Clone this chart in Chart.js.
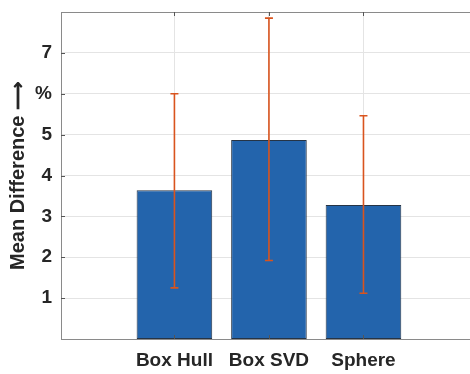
<!DOCTYPE html>
<html>
<head>
<meta charset="utf-8">
<script src="https://cdn.jsdelivr.net/npm/chart.js@4.4.1/dist/chart.umd.min.js"></script>
<style>
  html, body { margin: 0; padding: 0; background: #fff; overflow: hidden; }
  #wrap { width: 470px; height: 374px; }
</style>
</head>
<body>
<div id="wrap"><canvas id="chart" width="470" height="374"></canvas></div>
<script>
// values
const categories = ['Box Hull', 'Box SVD', 'Sphere']
const positions = [1, 2, 3]
const meanDiff = [3.64, 4.87, 3.28]
const errLow = [1.25, 1.92, 1.12]
const errHigh = [6.0, 7.85, 5.46]
const yTicks = [1, 2, 3, 4, 5, 6, 7]

const FONT = "'Liberation Sans', Arial, Helvetica, sans-serif"
const AXIS = '#8a8a8a'
const GRID = '#e4e4e4'

// error bars, top frame line and inward tick marks (matlab style)
const extras = {
  id: 'extras',
  afterDatasetsDraw(chart) {
    const ctx = chart.ctx
    const x = chart.scales.x, y = chart.scales.y
    const area = chart.chartArea
    ctx.save()
    // error bars
    ctx.strokeStyle = '#D9541E'
    ctx.lineWidth = 1.6
    positions.forEach((p, i) => {
      const px = x.getPixelForValue(p)
      const lo = y.getPixelForValue(errLow[i])
      const hi = y.getPixelForValue(errHigh[i])
      ctx.beginPath()
      ctx.moveTo(px, lo); ctx.lineTo(px, hi)
      ctx.moveTo(px - 4, lo); ctx.lineTo(px + 4, lo)
      ctx.moveTo(px - 4, hi); ctx.lineTo(px + 4, hi)
      ctx.stroke()
    })
    // top frame
    ctx.strokeStyle = AXIS
    ctx.lineWidth = 1
    ctx.beginPath()
    ctx.moveTo(area.left, area.top + 0.5)
    ctx.lineTo(area.right, area.top + 0.5)
    ctx.stroke()
    // inward ticks
    ctx.strokeStyle = '#555'
    ctx.beginPath()
    yTicks.forEach(t => {
      const py = Math.round(y.getPixelForValue(t)) + 0.5
      ctx.moveTo(area.left, py); ctx.lineTo(area.left + 4, py)
    })
    positions.forEach(p => {
      const px = Math.round(x.getPixelForValue(p)) + 0.5
      ctx.moveTo(px, area.bottom); ctx.lineTo(px, area.bottom - 4)
      ctx.moveTo(px, area.top); ctx.lineTo(px, area.top + 4)
    })
    ctx.stroke()
    ctx.restore()
  }
}

new Chart('chart', {
  type: 'bar',
  data: {
    datasets: [{
      label: 'Mean Difference',
      data: positions.map((p, i) => ({ x: p, y: meanDiff[i] })),
      backgroundColor: '#2364AC',
      borderColor: '#263445',
      borderWidth: 1,
      borderSkipped: false,
      barPercentage: 0.8,
      categoryPercentage: 1
    }]
  },
  options: {
    responsive: false,
    animation: false,
    layout: { padding: { top: 12, right: 0, left: 0, bottom: 0 } },
    plugins: { legend: { display: false }, tooltip: { enabled: false } },
    scales: {
      x: {
        type: 'linear',
        offset: false,
        min: -0.2,
        max: 4.127,
        afterBuildTicks: s => { s.ticks = positions.map(v => ({ value: v })) },
        afterFit: s => { s.height = 35; s.paddingLeft = 0; s.paddingRight = 0 },
        grid: { color: GRID, drawTicks: false, offset: false },
        border: { color: AXIS, width: 1 },
        ticks: {
          autoSkip: false,
          maxRotation: 0,
          padding: 10,
          color: '#262626',
          font: { family: FONT, size: 19, weight: 'bold' },
          callback: v => categories[positions.indexOf(v)]
        }
      },
      y: {
        min: 0,
        max: 8,
        afterBuildTicks: s => { s.ticks = yTicks.map(v => ({ value: v })) },
        afterFit: s => { s.width = 61; s.paddingTop = 0; s.paddingBottom = 0 },
        grid: { color: GRID, drawTicks: false },
        border: { color: AXIS, width: 1 },
        ticks: {
          padding: 9,
          color: '#262626',
          font: { family: FONT, size: 19, weight: 'bold' },
          callback: v => v === 6 ? '%' : v
        },
        title: {
          display: true,
          text: 'Mean Difference \u27F6',
          color: '#262626',
          font: { family: FONT, size: 20, weight: 'bold' },
          padding: { top: 6, bottom: 0 }
        }
      }
    }
  },
  plugins: [extras]
})
</script>
</body>
</html>
